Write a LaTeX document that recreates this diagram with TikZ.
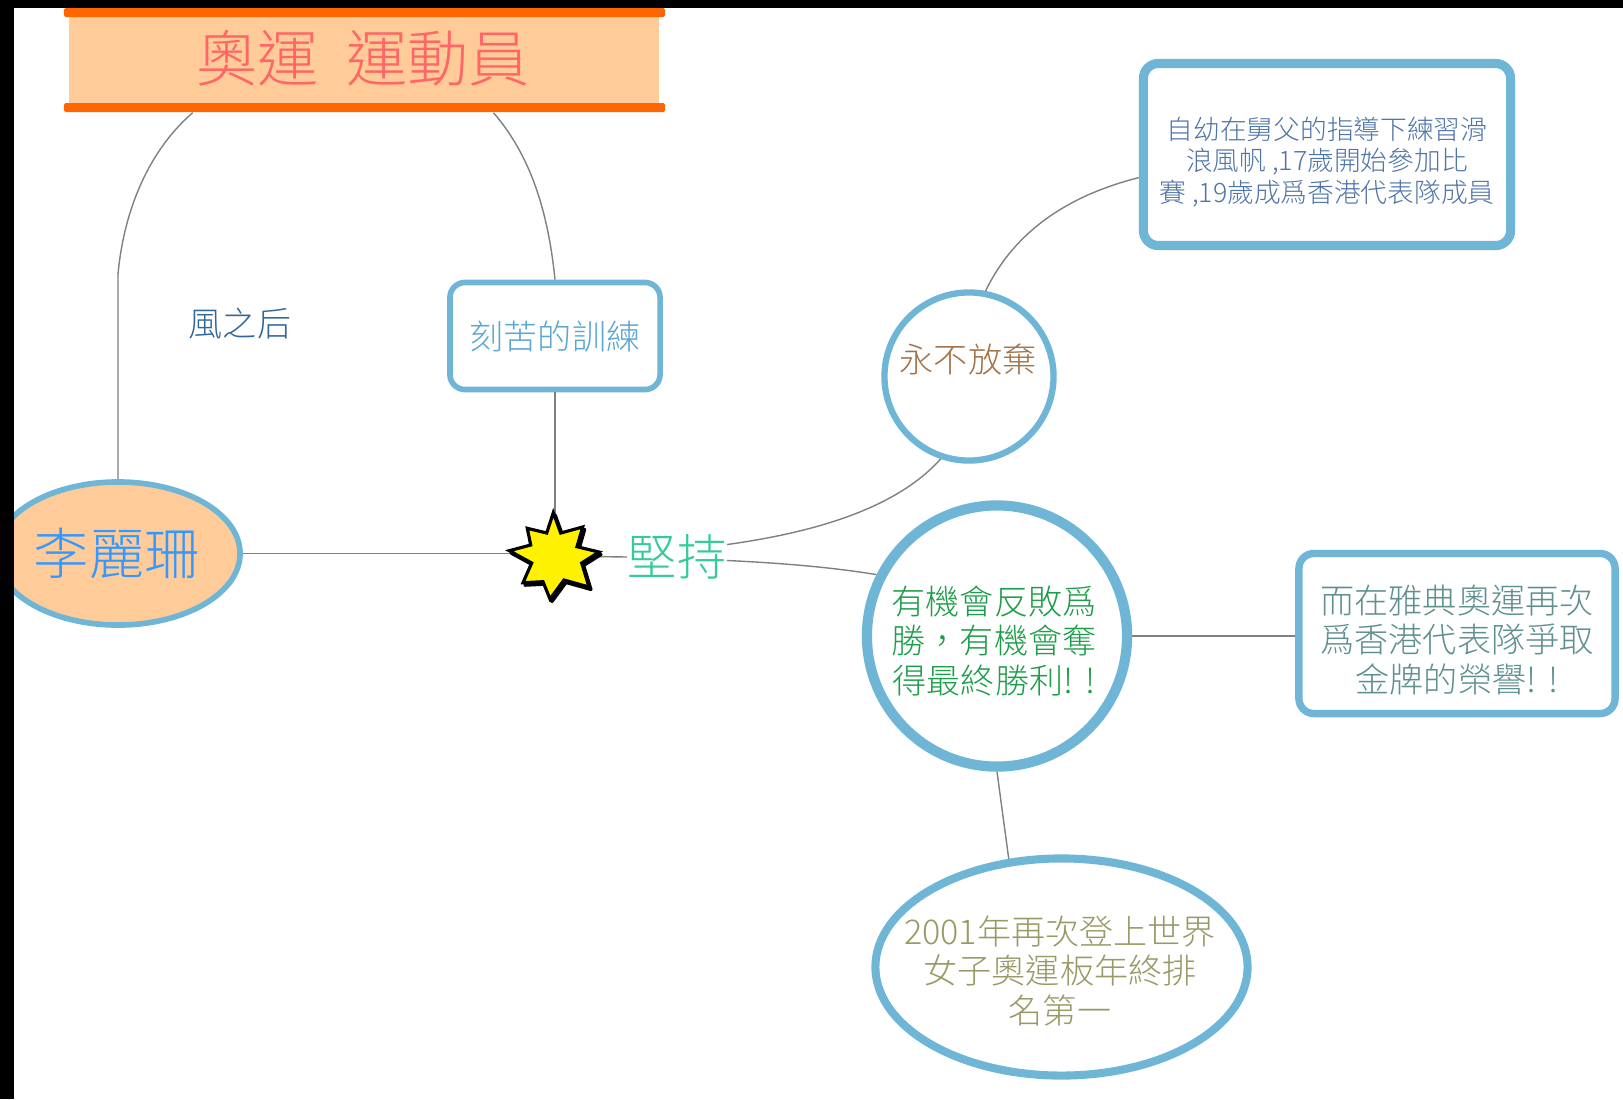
\documentclass[tikz,border=0pt]{standalone}
\usepackage{fontspec}
\setmainfont{Noto Sans CJK TC Light}
\usetikzlibrary{shapes.geometric,calc}
\definecolor{ringblue}{HTML}{6FB5D6}
\definecolor{linegrey}{HTML}{808080}
\definecolor{bandorange}{HTML}{FFCC99}
\definecolor{barorange}{HTML}{FF6600}
\definecolor{titlered}{HTML}{FF6666}
\definecolor{leeblue}{HTML}{3399FF}
\definecolor{queenblue}{HTML}{336699}
\definecolor{drillblue}{HTML}{5BA7D1}
\definecolor{holdgreen}{HTML}{33CC99}
\definecolor{neverbrown}{HTML}{A3734A}
\definecolor{youthblue}{HTML}{4F74A8}
\definecolor{chancegreen}{HTML}{1E9E4A}
\definecolor{athensteal}{HTML}{5F9090}
\definecolor{rankolive}{HTML}{999966}
\tikzset{
	ring/.style={draw=ringblue,fill=white},
	card/.style={ring,rectangle,rounded corners=3mm/2},
	oval/.style={ring,ellipse},
	words/.style={align=center,inner sep=2pt},
	link/.style={draw=linegrey,line width=0.4pt}
}
\newcommand{\sized}[1]{\fontsize{#1}{1.15\dimexpr #1pt\relax}\selectfont}
\newcommand{\burstpath}{(553.3,512.7) -- (560.7,533) -- (582.7,527) -- (577,546.7) -- (599,552) -- (581.7,563) -- (589,587) -- (564,580) -- (550,599) -- (543,581.7) -- (523,582.7) -- (531.7,563) -- (509.3,550.7) -- (530.7,545) -- (527.3,528.3) -- (546.7,533) -- cycle}
\begin{document}
\begin{tikzpicture}[x=0.01cm,y=-0.01cm]
	\useasboundingbox (0,0) rectangle (1623,1099);
	\node[rectangle,fill=bandorange,minimum width=5.9cm,minimum height=0.88cm] (band) at (364,60) {};
	\node[rectangle,fill=barorange,rounded corners=0.5pt,minimum width=6.01cm,minimum height=0.09cm,inner sep=0pt] (bartop) at (364.5,12.5) {};
	\node[rectangle,fill=barorange,rounded corners=0.5pt,minimum width=6.01cm,minimum height=0.09cm,inner sep=0pt] (barbot) at (364.5,107.5) {};
	\node[words,text=titlered,font=\sized{17.4}] (title) at (363,58) {奧運\hspace{0.45em}運動員};
	\node[oval,fill=bandorange,line width=1.6pt,minimum width=2.44cm,minimum height=1.43cm] (lee) at (118,553.5) {};
	\node[words,text=leeblue,font=\sized{15.8}] (leename) at (117,553) {李麗珊};
	\node[words,text=queenblue,font=\sized{9.7}] (queen) at (240,324) {風之后};
	\node[card,line width=1.6pt,minimum width=2.1cm,minimum height=1.07cm] (drill) at (555,336) {};
	\node[words,text=drillblue,font=\sized{9.7}] (drilltext) at (555,336) {刻苦的訓練};
	\node[rectangle,inner sep=0pt,minimum width=0.9cm,minimum height=0.86cm] (burst) at (554.5,556) {};
	\node[words,inner sep=0pt,text=holdgreen,font=\sized{14}] (hold) at (677,557) {堅持};
	\node[ring,ellipse,line width=1.8pt,minimum width=1.69cm,minimum height=1.68cm] (never) at (969,376.5) {};
	\node[words,text=neverbrown,font=\sized{9.7}] (nevertext) at (968,359) {永不放棄};
	\node[card,line width=2.6pt,minimum width=3.67cm,minimum height=1.82cm] (youth) at (1327,154.5) {};
	\node[words,text=youthblue,font=\fontsize{7.6}{9}\selectfont] (youthtext) at (1327,162) {自幼在舅父的指導下練習滑\\浪風帆 ,17歲開始參加比\\賽 ,19歲成爲香港代表隊成員};
	\node[oval,line width=2.9pt,minimum width=2.6cm,minimum height=2.61cm] (chance) at (997,636) {};
	\node[words,text=chancegreen,font=\sized{9.7}] (chancetext) at (994,641) {有機會反敗爲\\勝\symbol{"FF0C}有機會奪\\得最終勝利!\hspace{0.35em}!};
	\node[card,line width=2.1pt,minimum width=3.16cm,minimum height=1.6cm] (athens) at (1457,633.5) {};
	\node[words,text=athensteal,font=\sized{9.7}] (athenstext) at (1457,640) {而在雅典奧運再次\\爲香港代表隊爭取\\金牌的榮譽!\hspace{0.35em}!};
	\node[oval,line width=2.3pt,minimum width=3.72cm,minimum height=2.17cm] (rank) at (1061.5,967) {};
	\node[words,text=rankolive,font=\sized{9.7}] (ranktext) at (1060,971) {2001年再次登上世界\\女子奧運板年終排\\名第一};
	\coordinate (bend) at (118,274);
	\draw[link] (lee.north) -- (bend) .. controls (125,200) and (155,145) .. ($(barbot.south west)!0.215!(barbot.south east)$);
	\draw[link] (drill.north) .. controls (548,210) and (530,155) .. ($(barbot.south west)!0.714!(barbot.south east)$);
	\draw[link] (drill.south) -- (drill.south |- burst.center);
	\draw[link] (lee.east) -- (lee.east -| burst.center);
	\draw[link] (burst.center) -- (hold.west);
	\draw[link] (hold.14) .. controls (810,533) and (895,510) .. (never.251);
	\draw[link] (never.79) .. controls (1015,230) and (1070,195) .. (youth.187);
	\draw[link] (hold.-4) .. controls (780,563) and (830,567) .. (chance.153);
	\draw[link] (chance.east) -- (chance.east -| athens.west);
	\draw[link] (chance.south) -- (rank.116);
	\fill[black,xshift=0.02cm,yshift=-0.025cm,draw=black,line width=0.9pt,line join=round] \burstpath;
	\draw[black,fill=yellow,line width=0.9pt] \burstpath;
	\fill[black] (0,0) rectangle (1623,8);
	\fill[black] (0,0) rectangle (13.5,1099);
\end{tikzpicture}
\end{document}
